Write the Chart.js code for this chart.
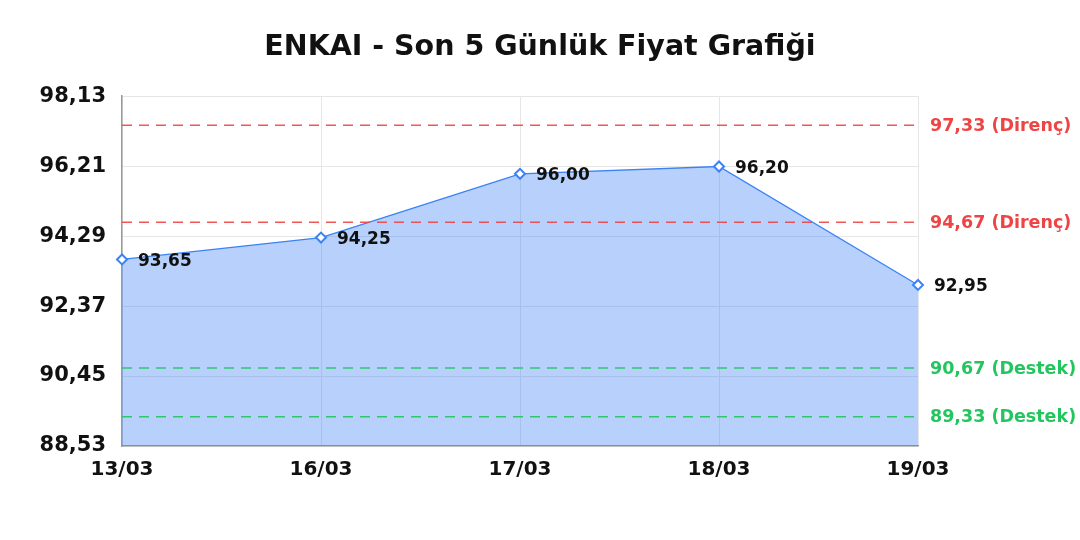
<!DOCTYPE html>
<html>
<head>
<meta charset="utf-8">
<script src="https://cdn.jsdelivr.net/npm/chart.js@4"></script>
<style>
    html, body { margin: 0; padding: 0; background: #ffffff; }
    #wrap { width: 1080px; height: 540px; }
</style>
</head>
<body>
<div id="wrap"><canvas id="priceChart"></canvas></div>
<script>
// ENKAI - son 5 gunluk kapanis fiyatlari
const dates = ['13/03', '16/03', '17/03', '18/03', '19/03'];
const prices = [93.65, 94.25, 96.00, 96.20, 92.95];
const yTicks = [88.53, 90.45, 92.37, 94.29, 96.21, 98.13];

// destek / direnc seviyeleri
const levelValues = [97.33, 94.67, 90.67, 89.33];
const levelNames = ['Direnç', 'Direnç', 'Destek', 'Destek'];

const FONT = "'DejaVu Sans', sans-serif";
const fmt = v => v.toFixed(2).replace('.', ',');
const levelColor = i => levelNames[i] === 'Direnç' ? '#ef4444' : '#22c55e';

// Dashed support/resistance lines with labels to the right of the plot
const levelsPlugin = {
    id: 'levels',
    afterDatasetsDraw(chart) {
        const { ctx, chartArea, scales } = chart;
        ctx.save();
        ctx.lineWidth = 1.5;
        ctx.setLineDash([10, 7]);
        ctx.globalAlpha = 0.9;
        levelValues.forEach((v, i) => {
            const y = scales.y.getPixelForValue(v);
            ctx.strokeStyle = levelColor(i);
            ctx.beginPath();
            ctx.moveTo(chartArea.left, y);
            ctx.lineTo(chartArea.right, y);
            ctx.stroke();
        });
        ctx.restore();
    },
    afterDraw(chart) {
        const { ctx, chartArea, scales } = chart;
        ctx.save();
        ctx.font = 'bold 17.5px ' + FONT;
        ctx.textAlign = 'left';
        ctx.textBaseline = 'middle';
        levelValues.forEach((v, i) => {
            const y = scales.y.getPixelForValue(v);
            ctx.fillStyle = levelColor(i);
            ctx.fillText(fmt(v) + ' (' + levelNames[i] + ')', chartArea.right + 12, y + 1);
        });
        ctx.restore();
    }
};

// Value labels next to each point
const valueLabels = {
    id: 'valueLabels',
    afterDraw(chart) {
        const { ctx } = chart;
        const meta = chart.getDatasetMeta(0);
        ctx.save();
        ctx.font = 'bold 17px ' + FONT;
        ctx.fillStyle = '#111111';
        ctx.textAlign = 'left';
        ctx.textBaseline = 'middle';
        meta.data.forEach((pt, i) => {
            ctx.fillText(fmt(prices[i]), pt.x + 16, pt.y + 2);
        });
        ctx.restore();
    }
};

new Chart(document.getElementById('priceChart'), {
    type: 'line',
    data: {
        labels: dates,
        datasets: [{
            data: prices,
            borderColor: '#3b82f6',
            backgroundColor: 'rgba(59, 130, 246, 0.37)',
            borderWidth: 1.3,
            fill: 'start',
            tension: 0,
            pointStyle: 'rectRot',
            pointRadius: 5,
            pointBackgroundColor: '#ffffff',
            pointBorderColor: '#3b82f6',
            pointBorderWidth: 2
        }]
    },
    options: {
        responsive: true,
        maintainAspectRatio: false,
        animation: false,
        layout: {
            padding: { left: 0, right: 0, top: 0, bottom: 46 }
        },
        plugins: {
            legend: { display: false },
            tooltip: { enabled: false },
            title: {
                display: true,
                text: 'ENKAI - Son 5 Günlük Fiyat Grafiği',
                color: '#111111',
                font: { family: FONT, size: 28.5, weight: 'bold' },
                padding: { top: 30, bottom: 32 }
            }
        },
        scales: {
            x: {
                offset: false,
                grid: { color: '#e6e6e6', drawTicks: false },
                border: { color: '#999999', width: 1.5 },
                ticks: {
                    color: '#111111',
                    padding: 12,
                    font: { family: FONT, size: 20, weight: 'bold' },
                    maxRotation: 0
                }
            },
            y: {
                min: yTicks[0],
                max: yTicks[yTicks.length - 1],
                afterBuildTicks: scale => {
                    scale.ticks = yTicks.map(v => ({ value: v }));
                },
                afterFit: scale => { scale.width = 122; },
                grid: { color: '#e6e6e6', drawTicks: false },
                border: { color: '#999999', width: 1.5 },
                ticks: {
                    color: '#111111',
                    padding: 16,
                    font: { family: FONT, size: 21, weight: 'bold' },
                    callback: v => fmt(v)
                }
            },
            // empty right axis that keeps room for the level labels
            side: {
                position: 'right',
                display: true,
                afterFit: scale => { scale.width = 162; },
                grid: { display: false, drawTicks: false },
                border: { display: false },
                ticks: { display: false }
            }
        }
    },
    plugins: [levelsPlugin, valueLabels]
});
</script>
</body>
</html>
